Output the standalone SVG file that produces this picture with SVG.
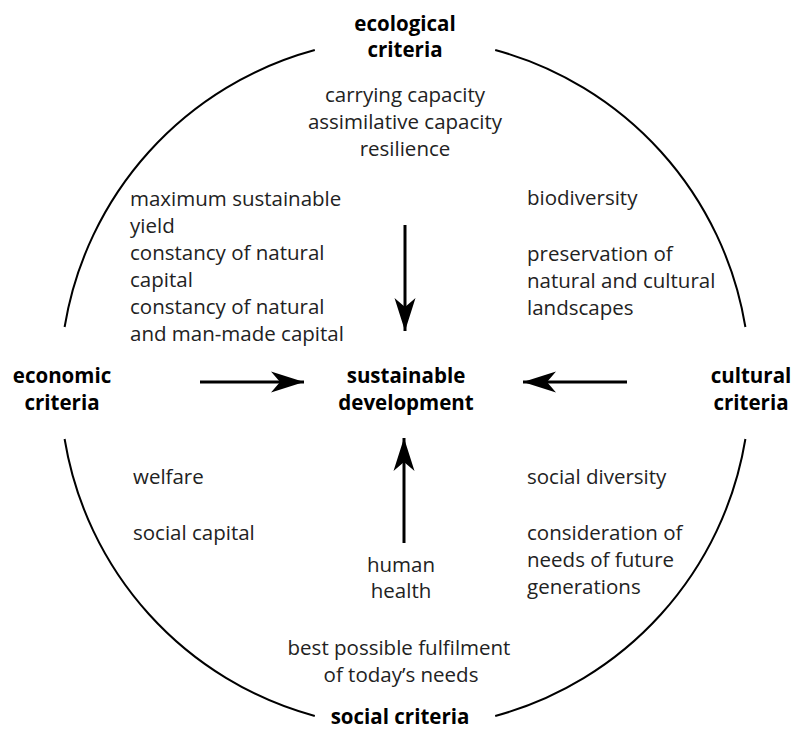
<svg xmlns="http://www.w3.org/2000/svg" width="806" height="729" viewBox="0 0 806 729">
<defs>
<style>
.t{font-family:"Open Sans","Noto Sans","Liberation Sans",sans-serif;font-size:20.5px;fill:#222}
.b{font-family:"Open Sans","Noto Sans","Liberation Sans",sans-serif;font-size:20.5px;font-weight:bold;fill:#000}
.m{text-anchor:middle}
.arc{fill:none;stroke:#000;stroke-width:2}
.ar{fill:none;stroke:#000;stroke-width:3}
</style>
<marker id="ah" markerUnits="userSpaceOnUse" viewBox="-34 -12 36 24" refX="0" refY="0" markerWidth="36" markerHeight="24" orient="auto">
<path d="M0,0 L-33,-10.5 L-24,0 L-33,10.5 Z" fill="#000"/>
</marker>
</defs>
<rect width="806" height="729" fill="#fff"/>
<g id="circle">
<path class="arc" d="M314.8,50 A345,345 0 0,0 64.6,327"/>
<path class="arc" d="M64.6,439 A345,345 0 0,0 314.8,716"/>
<path class="arc" d="M495.2,716 A345,345 0 0,0 745.4,439"/>
<path class="arc" d="M745.4,327 A345,345 0 0,0 495.2,50"/>
</g>
<g id="connectors">
<line class="ar" x1="405" y1="225" x2="405" y2="331" marker-end="url(#ah)"/>
<line class="ar" x1="200" y1="382" x2="304" y2="382" marker-end="url(#ah)"/>
<line class="ar" x1="627" y1="382" x2="523" y2="382" marker-end="url(#ah)"/>
<line class="ar" x1="404" y1="543" x2="404" y2="438" marker-end="url(#ah)"/>
</g>
<g id="ecological">
<text class="b m" x="405" y="31">ecological</text>
<text class="b m" x="405" y="57">criteria</text>
<text class="t m" x="405" y="102">carrying capacity</text>
<text class="t m" x="405" y="129">assimilative capacity</text>
<text class="t m" x="405" y="156">resilience</text>
</g>
<g id="economic-items">
<text class="t" x="130" y="206">maximum sustainable</text>
<text class="t" x="130" y="233">yield</text>
<text class="t" x="130" y="260">constancy of natural</text>
<text class="t" x="130" y="287">capital</text>
<text class="t" x="130" y="314">constancy of natural</text>
<text class="t" x="130" y="341">and man-made capital</text>
</g>
<g id="cultural-items">
<text class="t" x="527" y="205">biodiversity</text>
<text class="t" x="527" y="261">preservation of</text>
<text class="t" x="527" y="288">natural and cultural</text>
<text class="t" x="527" y="315">landscapes</text>
</g>
<g id="economic">
<text class="b m" x="62" y="383">economic</text>
<text class="b m" x="62" y="410">criteria</text>
</g>
<g id="sustainable">
<text class="b m" x="406" y="383">sustainable</text>
<text class="b m" x="406" y="410">development</text>
</g>
<g id="cultural">
<text class="b m" x="751" y="383">cultural</text>
<text class="b m" x="751" y="410">criteria</text>
</g>
<g id="social-left">
<text class="t" x="133" y="484">welfare</text>
<text class="t" x="133" y="540">social capital</text>
</g>
<g id="social-right">
<text class="t" x="527" y="484">social diversity</text>
<text class="t" x="527" y="540">consideration of</text>
<text class="t" x="527" y="567">needs of future</text>
<text class="t" x="527" y="594">generations</text>
</g>
<g id="social-center">
<text class="t m" x="401" y="572">human</text>
<text class="t m" x="401" y="598">health</text>
<text class="t m" x="399" y="655">best possible fulfilment</text>
<text class="t m" x="401" y="682">of today’s needs</text>
</g>
<g id="social">
<text class="b m" x="400" y="724">social criteria</text>
</g>
</svg>
